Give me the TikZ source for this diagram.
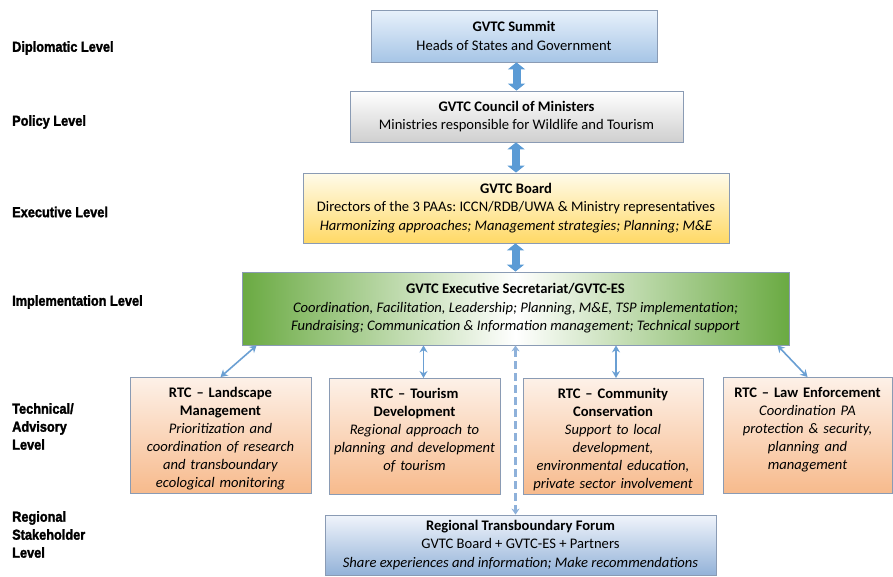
\documentclass[tikz,border=0pt]{standalone}
\usepackage{fontspec}
\setmainfont{Carlito}
\newfontfamily\lvlfont[FakeStretch=0.88,BoldFeatures={FakeBold=1.8}]{Liberation Sans}
\usetikzlibrary{shapes,arrows.meta,calc}
\usepackage{xcolor}
\definecolor{boxline}{HTML}{8A9BB4}
\definecolor{sumtop}{HTML}{E8F1FB}
\definecolor{sumbot}{HTML}{A6C5E6}
\definecolor{counbot}{HTML}{CFCFCF}
\definecolor{boardtop}{HTML}{FFFBEA}
\definecolor{boardbot}{HTML}{FFD966}
\definecolor{esgreen}{HTML}{6AAA42}
\definecolor{rtctop}{HTML}{FDF1E8}
\definecolor{rtcbot}{HTML}{F7BA8C}
\definecolor{forumtop}{HTML}{F0F4FB}
\definecolor{forumbot}{HTML}{93B2D8}
\definecolor{arrowblue}{HTML}{5B9BD5}
\definecolor{linkblue}{HTML}{6A9FD3}
\definecolor{dashblue}{HTML}{8EB1DA}

\begin{document}
\begin{tikzpicture}[x=1pt,y=-1pt,
    box/.style={draw=boxline,line width=0.8pt,align=center,inner sep=0pt,
      font=\fontsize{14.6}{18.5}\selectfont\frenchspacing},
    rtc/.style={box,top color=rtctop,bottom color=rtcbot,anchor=north,text width=#1,
      inner xsep=4pt,inner ysep=8pt,text height=12pt,text depth=88pt,
      font=\fontsize{14.6}{18}\selectfont\frenchspacing},
    lvl/.style={anchor=west,inner sep=0pt,align=left,
      font=\lvlfont\bfseries\fontsize{14.5}{18}\selectfont},
    link/.style={line width=1.6pt,draw=linkblue,
      {Stealth[length=7pt,width=8pt]}-{Stealth[length=7pt,width=8pt]}},
    dashlink/.style={line width=2.6pt,draw=dashblue,dash pattern=on 8pt off 4pt,
      {Stealth[length=6pt,width=8pt]}-{Stealth[length=6pt,width=8pt]}},
    bigarrow/.style={line width=8pt,draw=arrowblue,
      {Triangle[length=7pt,width=17pt]}-{Triangle[length=7pt,width=17pt]}}]
        \useasboundingbox (0,0) rectangle (893,576);
        % levels
        \node[lvl] (diplo) at (12,48) {Diplomatic Level};
        \node[lvl] (policy) at (12,122) {Policy Level};
        \node[lvl] (exec) at (12,212) {Executive Level};
        \node[lvl] (impl) at (12,302) {Implementation Level};
        \node[lvl,anchor=north west] (tech) at (12,403) {Technical/\\Advisory\\Level};
        \node[lvl,anchor=north west] (stake) at (12,511) {Regional\\Stakeholder\\Level};
        % main chain
        \node[box,top color=sumtop,bottom color=sumbot,minimum width=286pt,minimum height=52pt]
          (summit) at (514,36) {\textbf{GVTC Summit}\\Heads of States and Government};
        \node[box,top color=white,bottom color=counbot,minimum width=333pt,minimum height=51pt]
          (council) at (516.5,116.5) {\textbf{GVTC Council of Ministers}\\Ministries responsible for Wildlife and Tourism};
        \node[box,top color=boardtop,bottom color=boardbot,minimum width=426pt,minimum height=70pt]
          (board) at (516,208) {\textbf{GVTC Board}\\Directors of the 3 PAAs: ICCN/RDB/UWA \& Ministry representatives\\
          \textit{Harmonizing approaches; Management strategies; Planning; M\&E}};
        \node[box,left color=esgreen,right color=esgreen,middle color=white,minimum width=547pt,minimum height=73pt]
          (es) at (515.5,308.5) {\textbf{GVTC Executive Secretariat/GVTC-ES}\\
          \textit{Coordination, Facilitation, Leadership; Planning, M\&E, TSP implementation;}\\
          \textit{Fundraising; Communication \& Information management; Technical support}};
        % technical committees
        \node[rtc=173pt] (land) at (220.5,377) {\textbf{RTC -- Landscape}\\\textbf{Management}\\
          \textit{Prioritization and}\\\textit{coordination of research}\\\textit{and transboundary}\\\textit{ecological monitoring}};
        \node[rtc=163pt] (tour) at (414.5,378) {\textbf{RTC -- Tourism}\\\textbf{Development}\\
          \textit{Regional approach to}\\\textit{planning and development}\\\textit{of tourism}};
        \node[rtc=172pt] (comm) at (613,378) {\textbf{RTC -- Community}\\\textbf{Conservation}\\
          \textit{Support to local}\\\textit{development,}\\\textit{environmental education,}\\\textit{private sector involvement}};
        \node[rtc=161pt] (law) at (807.5,377) {\textbf{RTC -- Law Enforcement}\\
          \textit{Coordination PA}\\\textit{protection \& security,}\\\textit{planning and}\\\textit{management}};
        \node[box,top color=forumtop,bottom color=forumbot,minimum width=391pt,minimum height=60pt]
          (forum) at (520.5,545) {\textbf{Regional Transboundary Forum}\\GVTC Board + GVTC-ES + Partners\\
          \textit{Share experiences and information; Make recommendations}};
        % connectors
        \draw[bigarrow] (council.north) -- (council.north |- summit.south);
        \draw[bigarrow] (board.north) -- (board.north |- council.south);
        \draw[bigarrow] (es.north) -- (es.north |- board.south);
        \draw[link] ([xshift=15pt]es.south west) -- (land.north);
        \draw[link] ($(tour.north)+(9,0)$) -- ($(tour.north |- es.south)+(9,0)$);
        \draw[link] ($(comm.north)+(3,0)$) -- ($(comm.north |- es.south)+(3,0)$);
        \draw[link] ([xshift=-12pt]es.south east) -- (law.north);
        \draw[dashlink] (es.south) -- (es.south |- forum.north);
      \end{tikzpicture}
\end{document}
